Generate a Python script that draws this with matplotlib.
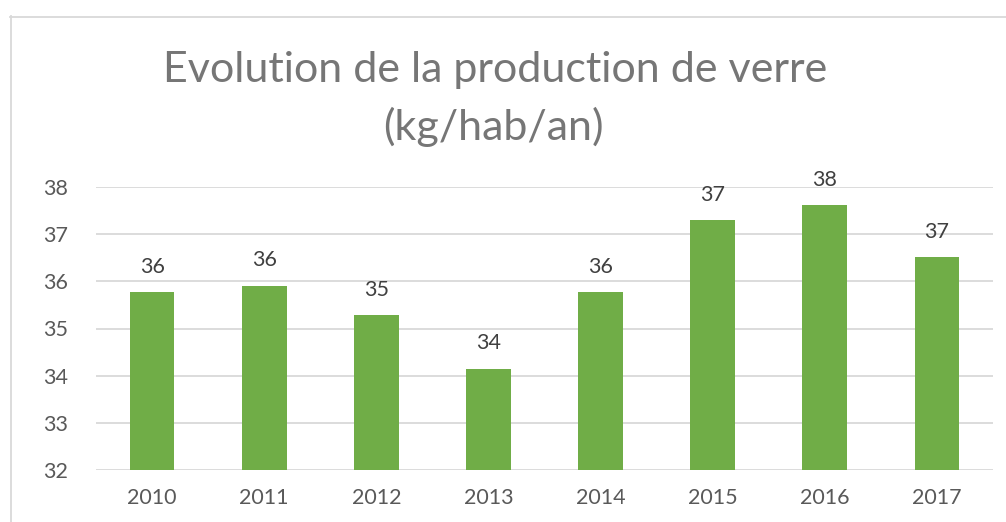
import matplotlib.pyplot as plt
from matplotlib.lines import Line2D

years = ["2010", "2011", "2012", "2013", "2014", "2015", "2016", "2017"]
values = [35.77, 35.91, 35.28, 34.15, 35.77, 37.30, 37.62, 36.51]

plt.rcParams['font.family'] = ['Lato', 'DejaVu Sans']

W, H = 1006, 522
fig = plt.figure(figsize=(W / 100, H / 100), dpi=100)
ax = fig.add_axes([96 / W, 1 - 470 / H, (993 - 96) / W, (470 - 187) / H])

x = range(len(years))
ax.bar(x, values, width=0.4, color="#70AD47", bottom=0, zorder=3)
ax.set_ylim(32, 38)
ax.set_xlim(-0.5, len(years) - 0.5)
ax.set_yticks(range(32, 39))
ax.set_xticks(list(x))
ax.set_xticklabels(years)
ax.grid(axis="y", color="#d9d9d9", linewidth=1.3, zorder=0)
for s in ax.spines.values():
    s.set_visible(False)
ax.tick_params(length=0, labelsize=15.5, labelcolor="#595959")
ax.tick_params(axis="y", pad=38)
ax.tick_params(axis="x", pad=13)
for lbl in ax.get_yticklabels():
    lbl.set_horizontalalignment("left")

for xi, v in zip(x, values):
    ax.annotate(f"{v:.0f}", (xi, v), xytext=(0, 11), textcoords="offset points",
                ha="center", va="bottom", fontsize=15.5, color="#404040")

fig.text(495 / W, 1 - 70 / H, "Evolution de la production de verre", ha="center",
         va="center", fontsize=31, color="#767676")
fig.text(493 / W, 1 - 127 / H, "(kg/hab/an)", ha="center", va="center",
         fontsize=31, color="#767676")

fig.add_artist(Line2D([10.5 / W, 10.5 / W], [0, 1 - 16 / H], transform=fig.transFigure,
                      color="#d9d9d9", linewidth=1.3))
fig.add_artist(Line2D([10 / W, 1], [1 - 16.5 / H, 1 - 16.5 / H], transform=fig.transFigure,
                      color="#d9d9d9", linewidth=1.3))

fig.savefig("out.png", dpi=100)
